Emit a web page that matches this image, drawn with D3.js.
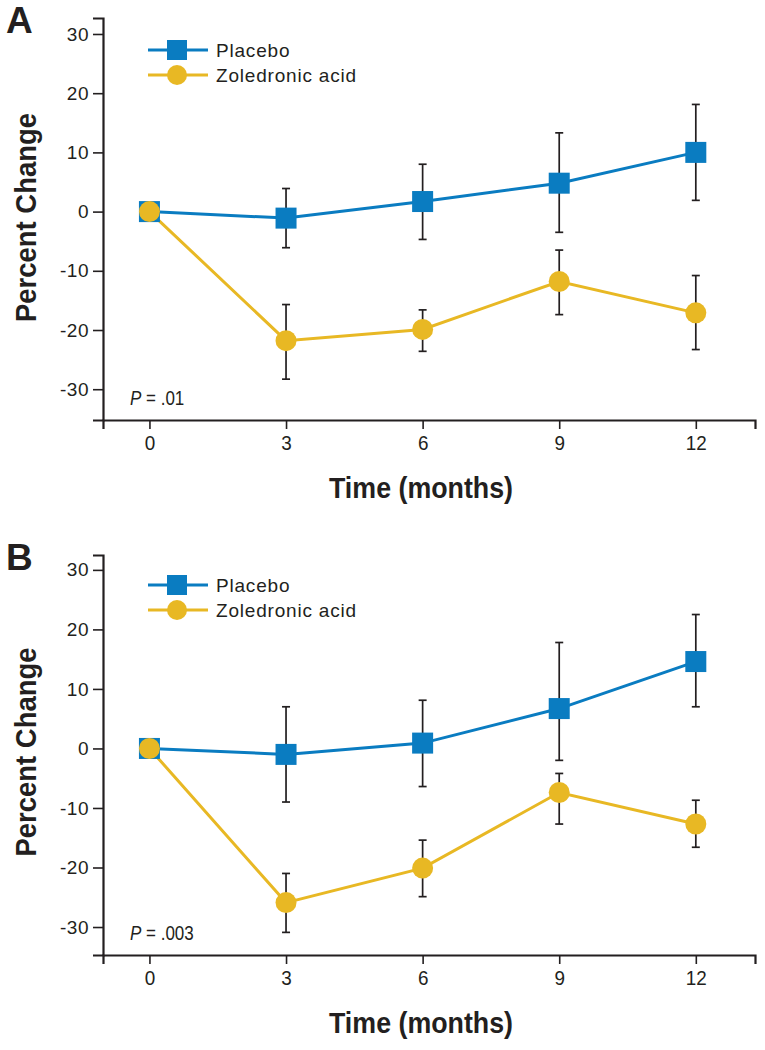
<!DOCTYPE html>
<html>
<head>
<meta charset="utf-8">
<script src="https://cdn.jsdelivr.net/npm/d3@7"></script>
<style>
  body { margin: 0; background: #fff; }
  .tick text { font-family: "Liberation Sans", Arial, sans-serif; fill: #231f20; }
  .axis-title { font-family: "Liberation Sans", Arial, sans-serif; font-weight: bold; fill: #231f20; }
</style>
</head>
<body>
<figure id="chart" style="margin:0"></figure>
<script>
// months on the x axis
var months = [0, 3, 6, 9, 12];
var yTicks = [-30, -20, -10, 0, 10, 20, 30];
var seriesNames = ["Placebo", "Zoledronic acid"];

// panel A
var placeboA = [0, -1.1, 1.7, 4.8, 10.0];
var placeboAHi = [0, 3.9, 8.0, 13.3, 18.1];
var placeboALo = [0, -6.1, -4.7, -3.5, 1.9];
var zolA = [0, -21.8, -19.9, -11.8, -17.1];
var zolAHi = [0, -15.7, -16.6, -6.5, -10.8];
var zolALo = [0, -28.3, -23.6, -17.4, -23.3];

// panel B
var placeboB = [0, -1.0, 0.9, 6.7, 14.6];
var placeboBHi = [0, 7.0, 8.1, 17.8, 22.5];
var placeboBLo = [0, -9.0, -6.4, -2.0, 7.0];
var zolB = [0, -25.9, -20.1, -7.4, -12.7];
var zolBHi = [0, -21.0, -15.4, -4.2, -8.7];
var zolBLo = [0, -30.9, -24.9, -12.7, -16.6];

var blue = "#0a7cc1";
var yellow = "#e8b824";
var dark = "#231f20";

var svg = d3.select("figure#chart")
  .append("svg")
  .attr("width", 765)
  .attr("height", 1050);

function rows(vals, hi, lo) {
  return months.map(function(m, i) {
    return { month: m, value: vals[i], hi: hi[i], lo: lo[i] };
  });
}

function drawPanel(cfg) {
  var g = svg.append("g");

  var x = d3.scaleLinear().domain([-1.02, 13.3]).range([103, 755]);
  var y = d3.scaleLinear().domain(cfg.yDomain).range([cfg.bottom, cfg.top]);

  var placebo = rows(cfg.placebo, cfg.placeboHi, cfg.placeboLo);
  var zol = rows(cfg.zol, cfg.zolHi, cfg.zolLo);

  // axes
  var yAxis = g.append("g")
    .attr("transform", "translate(103,0)")
    .call(d3.axisLeft(y).tickValues(yTicks).tickSize(10).tickPadding(4).tickFormat(function(d) { return String(d); }));
  var xAxis = g.append("g")
    .attr("transform", "translate(0," + cfg.bottom + ")")
    .call(d3.axisBottom(x).tickValues(months).tickSize(9).tickPadding(6));

  [yAxis, xAxis].forEach(function(a) {
    a.select(".domain").attr("stroke", dark).attr("stroke-width", 2.2);
    a.selectAll(".tick line").attr("stroke", dark).attr("stroke-width", 1.6);
  });
  yAxis.selectAll(".tick text")
    .style("font-size", "19px")
    .style("letter-spacing", "0.5px");
  xAxis.selectAll(".tick text")
    .style("font-size", "21px")
    .attr("transform", "scale(0.9,1)");

  // axis titles
  g.append("text")
    .attr("class", "axis-title")
    .attr("x", 329)
    .attr("y", cfg.bottom + 78)
    .attr("textLength", 184)
    .attr("lengthAdjust", "spacingAndGlyphs")
    .style("font-size", "30px")
    .text("Time (months)");

  g.append("text")
    .attr("class", "axis-title")
    .attr("transform", "translate(36," + (cfg.labelMid + 104.5) + ") rotate(-90)")
    .attr("textLength", 209)
    .attr("lengthAdjust", "spacingAndGlyphs")
    .style("font-size", "30px")
    .text("Percent Change");

  // panel letter
  g.append("text")
    .attr("x", 6)
    .attr("y", cfg.top + 15)
    .style("font-family", "'Liberation Sans', Arial, sans-serif")
    .style("font-weight", "bold")
    .style("font-size", "37px")
    .attr("fill", dark)
    .text(cfg.letter);

  // P value
  var p = g.append("text")
    .attr("transform", "translate(130," + (cfg.bottom - 15) + ") scale(0.85,1)")
    .style("font-family", "'Liberation Sans', Arial, sans-serif")
    .style("font-size", "20px")
    .attr("fill", dark);
  p.append("tspan").style("font-style", "italic").text("P");
  p.append("tspan").text(" = " + cfg.p);

  // error bars
  [placebo, zol].forEach(function(data) {
    var eb = g.append("g").selectAll("g")
      .data(data.filter(function(d) { return d.hi !== d.lo; }))
      .enter().append("g")
      .attr("stroke", dark)
      .attr("stroke-width", 1.7);
    eb.append("line")
      .attr("x1", d => x(d.month)).attr("x2", d => x(d.month))
      .attr("y1", d => y(d.hi)).attr("y2", d => y(d.lo));
    eb.append("line")
      .attr("x1", d => x(d.month) - 4).attr("x2", d => x(d.month) + 4)
      .attr("y1", d => y(d.hi)).attr("y2", d => y(d.hi));
    eb.append("line")
      .attr("x1", d => x(d.month) - 4).attr("x2", d => x(d.month) + 4)
      .attr("y1", d => y(d.lo)).attr("y2", d => y(d.lo));
  });

  var line = d3.line().x(d => x(d.month)).y(d => y(d.value));

  g.append("path").datum(placebo)
    .attr("d", line).attr("fill", "none")
    .attr("stroke", blue).attr("stroke-width", 3);
  g.append("path").datum(zol)
    .attr("d", line).attr("fill", "none")
    .attr("stroke", yellow).attr("stroke-width", 3);

  g.selectAll("rect.pl")
    .data(placebo)
    .enter().append("rect")
    .attr("class", "pl")
    .attr("x", d => x(d.month) - 10.5)
    .attr("y", d => y(d.value) - 10.5)
    .attr("width", 21).attr("height", 21)
    .attr("fill", blue);

  g.selectAll("circle.zo")
    .data(zol)
    .enter().append("circle")
    .attr("class", "zo")
    .attr("cx", d => x(d.month))
    .attr("cy", d => y(d.value))
    .attr("r", 10.5)
    .attr("fill", yellow);

  // legend
  var leg = g.append("g").selectAll("g")
    .data(seriesNames)
    .enter().append("g")
    .attr("transform", (d, i) => "translate(148," + (cfg.legendY + i * 25) + ")");
  leg.append("line")
    .attr("x1", 0).attr("x2", 60)
    .attr("stroke", (d, i) => i === 0 ? blue : yellow)
    .attr("stroke-width", 3);
  leg.each(function(d, i) {
    var s = d3.select(this);
    if (i === 0) {
      s.append("rect").attr("x", 19).attr("y", -10).attr("width", 20).attr("height", 20).attr("fill", blue);
    } else {
      s.append("circle").attr("cx", 29).attr("r", 10).attr("fill", yellow);
    }
  });
  leg.append("text")
    .attr("x", 68)
    .attr("y", 6.5)
    .style("font-family", "'Liberation Sans', Arial, sans-serif")
    .style("font-size", "19px")
    .style("letter-spacing", "0.8px")
    .attr("fill", dark)
    .text(d => d);
}

drawPanel({
  letter: "A", top: 18, bottom: 420, yDomain: [-35.2, 32.7], labelMid: 217.5, legendY: 50, p: ".01",
  placebo: placeboA, placeboHi: placeboAHi, placeboLo: placeboALo,
  zol: zolA, zolHi: zolAHi, zolLo: zolALo
});

drawPanel({
  letter: "B", top: 555, bottom: 955, yDomain: [-34.7, 32.5], labelMid: 752, legendY: 585, p: ".003",
  placebo: placeboB, placeboHi: placeboBHi, placeboLo: placeboBLo,
  zol: zolB, zolHi: zolBHi, zolLo: zolBLo
});
</script>
</body>
</html>
